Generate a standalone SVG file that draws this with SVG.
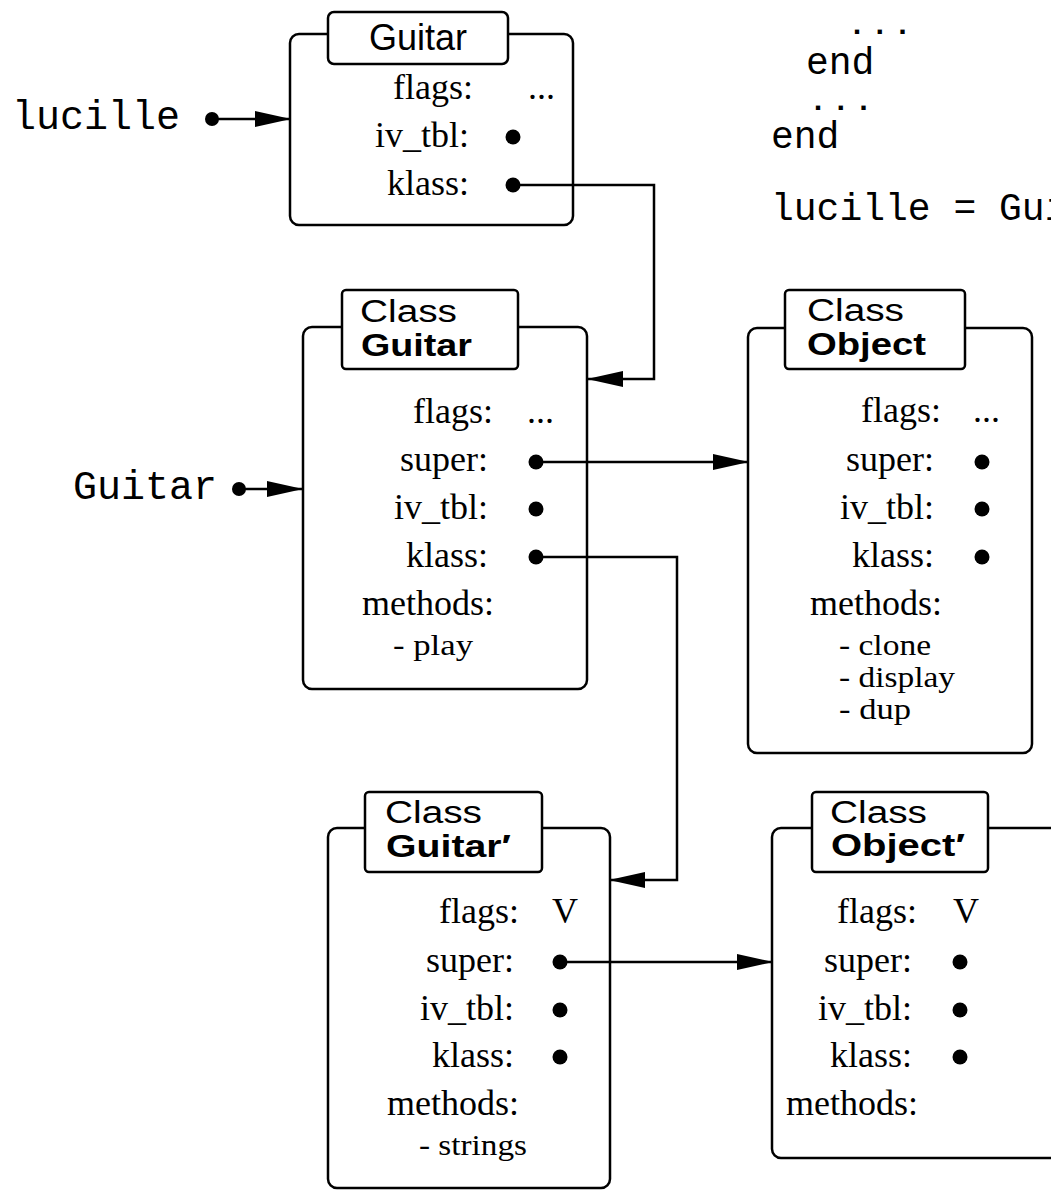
<svg xmlns="http://www.w3.org/2000/svg" width="1051" height="1190" viewBox="0 0 1051 1190">
<style>
.box{fill:none;stroke:#000;stroke-width:2.5}
.title{fill:#fff;stroke:#000;stroke-width:2.5}
.lbl{font-family:"Liberation Serif","Times New Roman",serif;font-size:36px;text-anchor:end;fill:#000}
.val{font-family:"Liberation Serif","Times New Roman",serif;font-size:36px;fill:#000}
.item{font-family:"Liberation Serif","Times New Roman",serif;font-size:29px;fill:#000}
.sans{font-family:"Liberation Sans",Arial,sans-serif;font-size:36px;fill:#000}
.ct{font-family:"Liberation Sans",Arial,sans-serif;font-size:31px;fill:#000}
.b{font-weight:bold}
.mono{font-family:"Liberation Mono","Courier New",monospace;font-size:38px;fill:#000}
.ell{font-family:"Liberation Mono","Courier New",monospace;font-size:30px;letter-spacing:4.8px;font-weight:bold;fill:#000}
.big{font-size:40px}
.conn{fill:none;stroke:#000;stroke-width:2.5}
.dot{fill:#000}
</style>
<defs>
<marker id="ah" markerUnits="userSpaceOnUse" markerWidth="36" markerHeight="18" refX="36" refY="8" orient="auto">
<path d="M0,0 L36,8 L0,16 z" fill="#000"/>
</marker>
</defs>
<rect width="1051" height="1190" fill="#fff"/>

<g id="code">
<text class="ell" x="848" y="34">...</text>
<text class="mono" x="806" y="74">end</text>
<text class="ell" x="809" y="110">...</text>
<text class="mono" x="771" y="148">end</text>
<text class="mono" x="771" y="220">lucille = Gui</text>
</g>

<g id="label-lucille">
<text class="mono big" x="12" y="129">lucille</text>
<circle class="dot" cx="212" cy="119" r="7"/>
</g>
<g id="label-guitar">
<text class="mono big" x="73" y="499">Guitar</text>
<circle class="dot" cx="239" cy="489" r="7"/>
</g>

<g id="obj-lucille">
<rect class="box" x="290" y="34" width="283" height="191" rx="9"/>
<rect class="title" x="328" y="12" width="180" height="52" rx="6"/>
<text class="sans" x="418" y="50" text-anchor="middle">Guitar</text>
<text class="lbl" x="473" y="99">flags:</text><text class="val" x="528" y="99">...</text>
<text class="lbl" x="469" y="147">iv_tbl:</text><circle class="dot" cx="513" cy="137" r="7.5"/>
<text class="lbl" x="469" y="195">klass:</text><circle class="dot" cx="513" cy="185" r="7.5"/>
</g>

<g id="class-guitar">
<rect class="box" x="303" y="327" width="284" height="362" rx="9"/>
<rect class="title" x="342" y="290" width="176" height="79" rx="4"/>
<text class="ct" x="360" y="322" textLength="97" lengthAdjust="spacingAndGlyphs">Class</text>
<text class="ct b" x="361" y="356" textLength="111" lengthAdjust="spacingAndGlyphs">Guitar</text>
<text class="lbl" x="493" y="423">flags:</text><text class="val" x="527" y="423">...</text>
<text class="lbl" x="488" y="471">super:</text><circle class="dot" cx="536" cy="462" r="7.5"/>
<text class="lbl" x="488" y="519">iv_tbl:</text><circle class="dot" cx="536" cy="509" r="7.5"/>
<text class="lbl" x="488" y="567">klass:</text><circle class="dot" cx="536" cy="557" r="7.5"/>
<text class="lbl" x="494" y="615">methods:</text>
<text class="item" x="393" y="655" textLength="80" lengthAdjust="spacingAndGlyphs">- play</text>
</g>

<g id="class-object">
<rect class="box" x="748" y="328" width="284" height="425" rx="9"/>
<rect class="title" x="785" y="290" width="180" height="79" rx="4"/>
<text class="ct" x="807" y="321" textLength="97" lengthAdjust="spacingAndGlyphs">Class</text>
<text class="ct b" x="807" y="355" textLength="119" lengthAdjust="spacingAndGlyphs">Object</text>
<text class="lbl" x="941" y="422">flags:</text><text class="val" x="973" y="422">...</text>
<text class="lbl" x="934" y="471">super:</text><circle class="dot" cx="982" cy="462" r="7.5"/>
<text class="lbl" x="934" y="519">iv_tbl:</text><circle class="dot" cx="982" cy="509" r="7.5"/>
<text class="lbl" x="934" y="567">klass:</text><circle class="dot" cx="982" cy="557" r="7.5"/>
<text class="lbl" x="942" y="615">methods:</text>
<text class="item" x="839" y="655" textLength="92" lengthAdjust="spacingAndGlyphs">- clone</text>
<text class="item" x="839" y="687" textLength="116" lengthAdjust="spacingAndGlyphs">- display</text>
<text class="item" x="839" y="719" textLength="72" lengthAdjust="spacingAndGlyphs">- dup</text>
</g>

<g id="class-guitar-prime">
<rect class="box" x="328" y="828" width="282" height="360" rx="9"/>
<rect class="title" x="365" y="792" width="177" height="80" rx="4"/>
<text class="ct" x="385" y="823" textLength="97" lengthAdjust="spacingAndGlyphs">Class</text>
<text class="ct b" x="386" y="857" textLength="125" lengthAdjust="spacingAndGlyphs">Guitar′</text>
<text class="lbl" x="519" y="923">flags:</text><text class="val" x="552" y="923">V</text>
<text class="lbl" x="514" y="972">super:</text><circle class="dot" cx="560" cy="962" r="7.5"/>
<text class="lbl" x="514" y="1020">iv_tbl:</text><circle class="dot" cx="560" cy="1010" r="7.5"/>
<text class="lbl" x="514" y="1067">klass:</text><circle class="dot" cx="560" cy="1057" r="7.5"/>
<text class="lbl" x="519" y="1115">methods:</text>
<text class="item" x="419" y="1155" textLength="108" lengthAdjust="spacingAndGlyphs">- strings</text>
</g>

<g id="class-object-prime">
<rect class="box" x="772" y="828" width="292" height="330" rx="9"/>
<rect class="title" x="812" y="792" width="176" height="80" rx="4"/>
<text class="ct" x="830" y="823" textLength="97" lengthAdjust="spacingAndGlyphs">Class</text>
<text class="ct b" x="831" y="856" textLength="134" lengthAdjust="spacingAndGlyphs">Object′</text>
<text class="lbl" x="917" y="923">flags:</text><text class="val" x="953" y="923">V</text>
<text class="lbl" x="912" y="972">super:</text><circle class="dot" cx="960" cy="962" r="7.5"/>
<text class="lbl" x="912" y="1020">iv_tbl:</text><circle class="dot" cx="960" cy="1010" r="7.5"/>
<text class="lbl" x="912" y="1067">klass:</text><circle class="dot" cx="960" cy="1057" r="7.5"/>
<text class="lbl" x="918" y="1115">methods:</text>
</g>

<g id="connectors">
<path class="conn" d="M212,119 H291" marker-end="url(#ah)"/>
<path class="conn" d="M239,489 H303" marker-end="url(#ah)"/>
<path class="conn" d="M513,185 H654 V379 H587" marker-end="url(#ah)"/>
<path class="conn" d="M536,462 H749" marker-end="url(#ah)"/>
<path class="conn" d="M536,557 H677 V880 H609" marker-end="url(#ah)"/>
<path class="conn" d="M560,962 H773" marker-end="url(#ah)"/>
</g>
</svg>
